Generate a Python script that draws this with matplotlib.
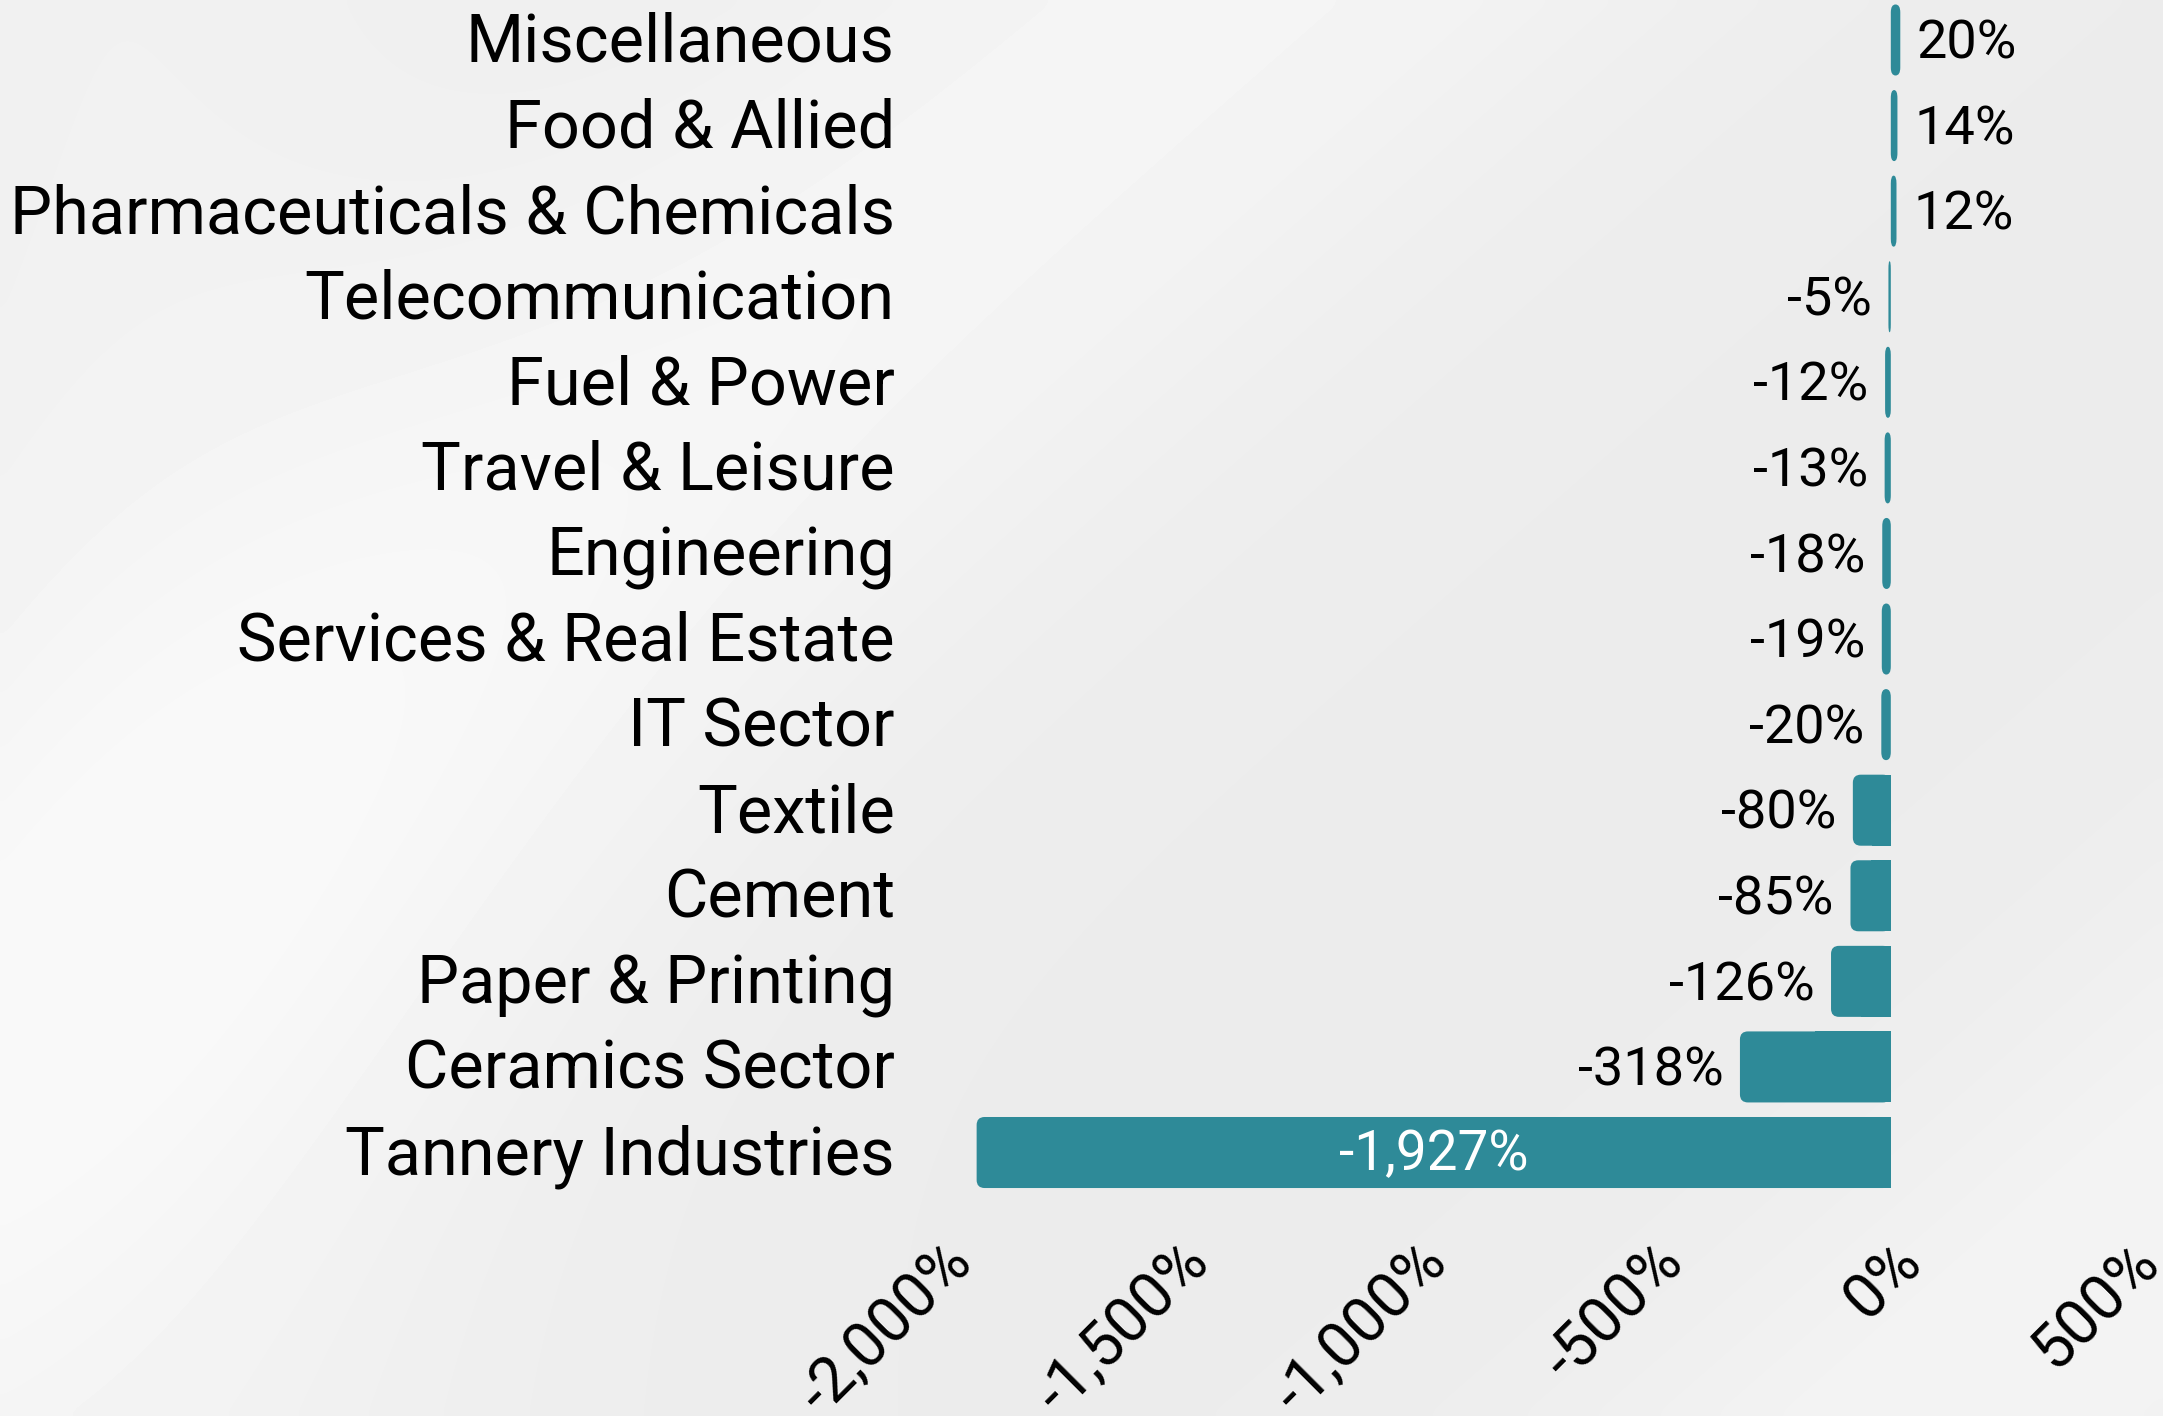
import numpy as np
import matplotlib
matplotlib.use('Agg')
import matplotlib.pyplot as plt
import matplotlib.transforms as mtransforms
from matplotlib.patches import FancyBboxPatch
from matplotlib.ticker import FuncFormatter

categories = ["Miscellaneous", "Food & Allied", "Pharmaceuticals & Chemicals",
              "Telecommunication", "Fuel & Power", "Travel & Leisure", "Engineering",
              "Services & Real Estate", "IT Sector", "Textile", "Cement",
              "Paper & Printing", "Ceramics Sector", "Tannery Industries"]
values = [20, 14, 12, -5, -12, -13, -18, -19, -20, -80, -85, -126, -318, -1927]
x_ticks = [-2000, -1500, -1000, -500, 0, 500]

BAR = '#2e8a98'
plt.rcParams['font.family'] = ['Roboto', 'DejaVu Sans']

W_PX, H_PX = 2163, 1416
fig = plt.figure(figsize=(W_PX / 100, H_PX / 100), dpi=100)
fig.patch.set_facecolor('#efefef')

# soft background (decoration)
bg = fig.add_axes([0, 0, 1, 1], zorder=-10)
h, w = 142, 216
yy, xx = np.mgrid[0:h, 0:w]
xn, yn = xx / w, yy / h
d = xn * 1.0 + yn * 0.75
img = 0.925 + 0.035 * np.exp(-((d - 0.55) / 0.22) ** 2) \
    + 0.03 * np.exp(-((d - 1.65) / 0.18) ** 2) \
    + 0.02 * np.exp(-((xn - 0.05) / 0.2) ** 2)
img = np.clip(img, 0, 0.975)
bg.imshow(img, cmap='gray', vmin=0, vmax=1, aspect='auto', interpolation='bicubic',
          extent=[0, 1, 0, 1])
bg.set_axis_off()

# axes placement (pixels)
left_px, right_px = 942, 2128
top_px, bottom_px = -2.8, 1195.3
ax = fig.add_axes([left_px / W_PX, (H_PX - bottom_px) / H_PX,
                   (right_px - left_px) / W_PX, (bottom_px - top_px) / H_PX])
ax.set_facecolor('none')

ypos = np.arange(len(categories))
bars = ax.barh(ypos, values, height=0.83, color=BAR)
ax.set_xlim(-2000, 500)
ax.set_ylim(len(categories) - 0.5, -0.5)

# rounded far ends
px_per_x = (right_px - left_px) / 2500.0
px_per_y = (bottom_px - top_px) / len(categories)
r_px = 8.0
for rect, v in zip(bars, values):
    x0, y0, wd, ht = rect.get_x(), rect.get_y(), rect.get_width(), rect.get_height()
    if wd < 0:
        x0, wd = x0 + wd, -wd
    rect.set_visible(False)
    rx = min(r_px / px_per_x, wd / 2.0)
    ry = r_px / px_per_y
    p = FancyBboxPatch((x0, y0), wd, ht,
                       boxstyle=f"round,pad=0,rounding_size={rx}",
                       mutation_aspect=ry / rx, facecolor=BAR, edgecolor='none')
    ax.add_patch(p)
    if wd > 2 * rx:
        if v < 0:
            sq = plt.Rectangle((x0 + wd / 2, y0), wd / 2, ht, facecolor=BAR, edgecolor='none')
        else:
            sq = plt.Rectangle((x0, y0), wd / 2, ht, facecolor=BAR, edgecolor='none')
        ax.add_patch(sq)

# value labels
for yi, v in zip(ypos, values):
    txt = f"{v:,}%"
    if v == min(values):
        ax.annotate(txt, (v / 2, yi), xytext=(0, -1.5), textcoords='offset points',
                    ha='center', va='center', color='white', fontsize=39.5)
    elif v >= 0:
        ax.annotate(txt, (v, yi), xytext=(12, -3), textcoords='offset points',
                    ha='left', va='center', fontsize=39, color='black')
    else:
        ax.annotate(txt, (v, yi), xytext=(-12, -3), textcoords='offset points',
                    ha='right', va='center', fontsize=39, color='black')

ax.set_yticks(ypos)
ax.set_yticklabels(categories, fontsize=48)
ax.set_xticks(x_ticks)
ax.xaxis.set_major_formatter(FuncFormatter(lambda x, p: f"{int(x):,}%"))
ax.tick_params(axis='y', length=0, pad=34)
ax.tick_params(axis='x', length=0, pad=26, labelsize=45)
shift_up = mtransforms.ScaledTranslation(0, 2.2 / 72, fig.dpi_scale_trans)
for lab in ax.get_yticklabels():
    lab.set_transform(lab.get_transform() + shift_up)
for lab in ax.get_xticklabels():
    lab.set_rotation(45)
    lab.set_rotation_mode('anchor')
    lab.set_ha('right')
    lab.set_va('top')
for s in ax.spines.values():
    s.set_visible(False)

fig.savefig('out.png', dpi=100, facecolor=fig.get_facecolor())
